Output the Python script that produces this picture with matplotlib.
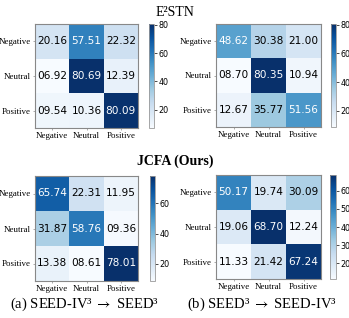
import numpy as np
import matplotlib
matplotlib.use("Agg")
import matplotlib.pyplot as plt
from matplotlib import colors as mcolors

plt.rcParams["mathtext.fontset"] = "stix"

labels = ["Negative", "Neutral", "Positive"]

e2stn_a = [[20.16, 57.51, 22.32],
           [6.92, 80.69, 12.39],
           [9.54, 10.36, 80.09]]
e2stn_b = [[48.62, 30.38, 21.00],
           [8.70, 80.35, 10.94],
           [12.67, 35.77, 51.56]]
jcfa_a = [[65.74, 22.31, 11.95],
          [31.87, 58.76, 9.36],
          [13.38, 8.61, 78.01]]
jcfa_b = [[50.17, 19.74, 30.09],
          [19.06, 68.70, 12.24],
          [11.33, 21.42, 67.24]]

W, H = 349, 318
fig = plt.figure(figsize=(W / 100, H / 100), dpi=100)

def px_axes(x0, y0, x1, y1):
    return fig.add_axes([x0 / W, (H - y1) / H, (x1 - x0) / W, (y1 - y0) / H])

serif = ["Liberation Serif", "DejaVu Serif"]
cmap = plt.get_cmap("Blues")

def draw(mat, box, cbox, ticks):
    m = np.array(mat)
    ax = px_axes(*box)
    cax = px_axes(*cbox)
    norm = mcolors.Normalize(vmin=m.min(), vmax=m.max())
    im = ax.imshow(m, cmap=cmap, norm=norm, aspect="auto")
    for i in range(3):
        for j in range(3):
            r, g, b, _ = cmap(norm(m[i, j]))
            lum = 0.2126 * r ** 2.2 + 0.7152 * g ** 2.2 + 0.0722 * b ** 2.2
            col = "black" if lum > 0.408 else "white"
            ax.text(j, i, f"{m[i, j]:05.2f}", ha="center", va="center",
                    fontsize=7.6, color=col, family="DejaVu Sans")
    ax.set_xticks(range(3))
    ax.set_yticks(range(3))
    ax.set_xticklabels(labels, family=serif, fontsize=6.4)
    ax.set_yticklabels(labels, family=serif, fontsize=6.4)
    ax.tick_params(length=1.5, width=0.5, pad=1.5, color="#888888")
    for s in ax.spines.values():
        s.set_color("#888888")
        s.set_linewidth(0.8)
    cb = fig.colorbar(im, cax=cax, ticks=ticks)
    cb.outline.set_edgecolor("#999999")
    cb.outline.set_linewidth(0.6)
    cax.tick_params(labelsize=5.8, length=2, width=0.5, pad=1)

draw(e2stn_a, (35, 24, 138, 128), (149, 24, 154, 128), [20, 40, 60, 80])
draw(e2stn_b, (216, 24, 321, 127), (331, 24, 336, 127), [20, 40, 60, 80])
draw(jcfa_a, (35, 176, 138, 281), (150, 176, 155, 281), [20, 40, 60])
draw(jcfa_b, (216, 175, 321, 279), (330, 175, 336, 279), [20, 30, 40, 50, 60])

fig.text(175 / W, 1 - 12 / H, "E²STN", family=serif, fontsize=10,
         ha="center", va="center")
fig.text(175 / W, 1 - 161 / H, "JCFA (Ours)", family=serif, fontsize=10,
         fontweight="bold", ha="center", va="center")
fig.text(84 / W, 1 - 304 / H, "(a) SEED-IV³ $\\rightarrow$ SEED³",
         family=serif, fontsize=10.5, ha="center", va="center")
fig.text(262 / W, 1 - 304 / H, "(b) SEED³ $\\rightarrow$ SEED-IV³",
         family=serif, fontsize=10.5, ha="center", va="center")

fig.savefig("out.png", dpi=100)
